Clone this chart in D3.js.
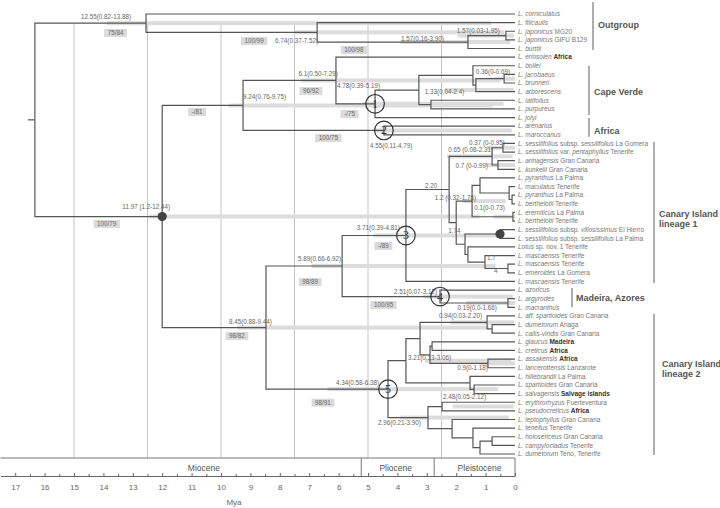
<!DOCTYPE html>
<html>
<head>
<meta charset="utf-8">
<script src="https://cdn.jsdelivr.net/npm/d3@7"></script>
<style>
body { margin: 0; background: #fff; }
svg { display: block; font-family: "Liberation Sans", Arial, sans-serif; }
</style>
</head>
<body>
<script>
"use strict"
/* etichette delle foglie, dall'alto: _corsivo_ e *grassetto* */
const taxa = [
    "_L. corniculatus_", "_L. filicaulis_", "_L. japonicus_ MG20", "_L. japonicus_ GIFU B129", "_L. burttii_",
    "_L. eriosolen_ *Africa*", "_L. bollei_", "_L. jacobaeus_", "_L. brunneri_", "_L. arborescens_",
    "_L. latifolius_", "_L. purpureus_", "_L. jolyi_", "_L. arenarius_", "_L. maroccanus_",
    "_L. sessilifolius_ subsp. _sessilifolius_ La Gomera", "_L. sessilifolius_ var. _pentaphyllus_ Tenerife",
    "_L. arinagensis_ Gran Canaria", "_L. kunkelii_ Gran Canaria", "_L. pyranthus_ La Palma",
    "_L. maculatus_ Tenerife", "_L. pyranthus_ La Palma", "_L. berthelotii_ Tenerife", "_L. eremiticus_ La Palma",
    "_L. berthelotii_ Tenerife", "_L. sessilifolius_ subsp. _villosissimus_ El Hierro",
    "_L. sessilifolius_ subsp. _sessilifolius_ La Palma", "_Lotus_ sp. nov. 1 Tenerife",
    "_L. mascaensis_ Tenerife", "_L. mascaensis_ Tenerife", "_L. emeroides_ La Gomera", "_L. mascaensis_ Tenerife",
    "_L. azoricus_", "_L. argyrodes_", "_L. macranthus_",
    "_L. aff. spartioides_ Gran Canaria", "_L. dumetorum_ Anaga", "_L. callis-viridis_ Gran Canaria",
    "_L. glaucus_ *Madeira*", "_L. creticus_ *Africa*", "_L. assakensis_ *Africa*", "_L. lancerottensis_ Lanzarote",
    "_L. hillebrandii_ La Palma", "_L. spartioides_ Gran Canaria", "_L. salvagensis_ *Salvage islands*",
    "_L. erythrorhyzus_ Fuerteventura", "_L. pseudocreticus_ *Africa*", "_L. leptophyllus_ Gran Canaria",
    "_L. tenellus_ Tenerife", "_L. holosericeus_ Gran Canaria", "_L. campylocladus_ Tenerife",
    "_L. dumetorum_ Teno, Tenerife"
];
/* nodo padre di ogni foglia */
const tipParent = [
    "A", "B", "D", "D", "C", "H", "K", "M", "M", "L", "N", "N", "I", "Af", "Af",
    "V", "V", "W", "W", "Y1", "Y2", "Y3", "Y3", "Y4", "Y4", "Z1", "Z1", "Z2", "Z3", "Z4", "Z4", "R",
    "S", "S1", "S1",
    "Q3a", "Q3ab", "Q3ab", "Q3b", "Q3b", "AL", "AL", "Q4", "Q4a", "Q4a", "Q5", "Q5", "Q6", "Q7", "Q9", "Q9", "Q8"
];
/* nodi interni: id, padre, età (milioni di anni) */
const clades = [
    ["root", null, 16.33], ["A", "root", 12.55], ["B", "A", 6.73], ["C", "B", 1.60], ["D", "C", 0.31],
    ["E", "root", 12.0], ["F", "E", 9.25], ["H", "F", 6.09], ["I", "H", 4.76], ["J", "I", 3.27],
    ["K", "J", 1.43], ["L", "K", 1.33], ["M", "L", 0.37], ["N", "J", 2.86], ["Af", "F", 4.46],
    ["G", "E", 8.47], ["P", "G", 5.88], ["R", "P", 3.71], ["T", "R", 2.24], ["U", "T", 0.78],
    ["V", "U", 0.41], ["W", "U", 0.58], ["X", "T", 2.0], ["Y", "X", 1.46], ["Y1", "Y", 1.19],
    ["Y2", "Y1", 0.20], ["Y3", "Y2", 0.10], ["Y4", "Y", 0.07], ["Z", "X", 1.70], ["Z1", "Z", 0.51],
    ["Z2", "Z", 1.60], ["Z3", "Z2", 1.02], ["Z4", "Z3", 0.24], ["S", "P", 2.55], ["S1", "S", 0.24],
    ["Q", "G", 4.32], ["Q1", "Q", 3.71], ["Q1a", "Q1", 3.23], ["Q3a", "Q1a", 0.95], ["Q3ab", "Q3a", 0.78],
    ["Q1b", "Q1a", 2.89], ["Q3b", "Q1b", 2.82], ["AL", "Q1b", 0.92], ["Q4", "Q1", 1.53], ["Q4a", "Q4", 1.39],
    ["Q2", "Q", 2.96], ["Q5", "Q2", 2.48], ["Q6", "Q2", 2.14], ["Q7", "Q6", 1.43], ["Q8", "Q7", 1.19],
    ["Q9", "Q8", 0.78]
];
/* età stimate scritte sui nodi */
const ageLabels = [
    ["A", "12.55(0.82-13.88)"], ["B", "6.74(0.37-7.52)"], ["C", "1.57(0.16-3.90)"], ["D", "1.57(0.03-1.95)"],
    ["H", "6.1(0.50-7.29)"], ["F", "9.24(0.76-9.75)"], ["I", "4.78(0.39-5.19)"], ["J", "1.33(0.04-2.4)"],
    ["M", "0.36(0-0.69)"], ["Af", "4.55(0.11-4.79)"], ["V", "0.37 (0-0.95)"], ["U", "0.65 (0.08-2.31)"],
    ["W", "0.7 (0-0.99)"], ["T", "2.20"], ["Y", "1.2 (0.32-1.76)"], ["Y4", "0.1(0-0.73)"], ["X", "1.74"],
    ["R", "3.71(0.39-4.81)"], ["P", "5.89(0.66-6.92)"], ["Z3", "1.7"], ["Z3", "4"], ["S", "2.51(0.07-3.12)"],
    ["S1", "0.19(0.0-1.66)"], ["Q3a", "0.94(0.03-2.20)"], ["G", "8.45(0.88-9.44)"], ["E", "11.97 (1.2-12.44)"],
    ["Q1", "3.21(0.13-3.06)"], ["AL", "0.9(0-1.18)"], ["Q", "4.34(0.58-6.38)"], ["Q5", "2.48(0.05-2.12)"],
    ["Q2", "2.96(0.21-3.90)"]
];
/* intervalli HPD 95%: nodo, minimo, massimo */
const hpd = [
    ["A", 0.82, 13.88], ["B", 0.37, 7.52], ["C", 0.16, 3.90], ["D", 0.03, 1.95], ["H", 0.50, 7.29],
    ["F", 0.76, 9.75], ["I", 0.39, 5.19], ["J", 0.04, 2.4], ["M", 0, 0.69], ["Af", 0.11, 4.79],
    ["V", 0, 0.95], ["U", 0.08, 2.31], ["W", 0, 0.99], ["Y", 0.32, 1.76], ["Y4", 0, 0.73],
    ["R", 0.39, 4.81], ["P", 0.66, 6.92], ["S", 0.07, 3.12], ["S1", 0.0, 1.66], ["Q3a", 0.03, 2.20],
    ["G", 0.88, 9.44], ["E", 1.2, 12.44], ["Q1", 0.13, 3.06], ["AL", 0, 1.18], ["Q", 0.58, 6.38],
    ["Q5", 0.05, 2.12], ["Q2", 0.21, 3.90]
];
/* supporto bootstrap / probabilità */
const support = [
    ["A", "75/84"], ["B", "100/99"], ["C", "100/98"], ["H", "96/92"], ["I", "-/75"], ["F", "-/81"],
    ["Af", "100/75"], ["E", "100/79"], ["R", "-/89"], ["P", "98/89"], ["S", "100/95"], ["G", "98/82"],
    ["Q", "98/91"]
];
const calibrations = [["I", "1"], ["Af", "2"], ["R", "3"], ["S", "4"], ["Q", "5"]];
const dots = ["E", "Z1"];
/* gruppi: righe dell'etichetta, prima e ultima foglia */
const groups = [
    [["Outgroup"], 0, 4], [["Cape Verde"], 6, 11], [["Africa"], 12, 14],
    [["Canary Island", "lineage 1"], 15, 31], [["Madeira, Azores"], 32, 34],
    [["Canary Island", "lineage 2"], 35, 51]
];
const epochs = [["Miocene", 17.5, 5.23], ["Pliocene", 5.23, 2.75], ["Pleistocene", 2.75, 0]];
const tickValues = d3.range(0, 18);
const gridAges = [15, 12.5, 10, 7.5, 5, 2.5];

/* posizionamento delle etichette (ancora, dx, dy rispetto al nodo) */
const ageLabelPos = [
    ["end", -15, -3.7], ["end", 1, 11], ["end", -24, -1.5], ["end", -6, -3], ["end", 2, -4],
    ["start", 0, -6], ["end", 5, -15.3], ["start", 6, 3.5], ["end", 6, -5], ["start", -14, 18],
    ["end", 2, -3], ["end", 1, -4], ["end", -10, 3.5], ["end", -12, -2], ["end", 4, -1.6],
    ["end", -8, -7], ["start", -8, 10], ["end", -6, -5], ["end", -1, -5.5], ["start", 2, -2.5],
    ["start", 9, 10.5], ["end", -3, -3], ["end", -11, 6.5], ["end", -5, -4], ["end", 6, -4],
    ["end", 8, -8], ["start", 2, -1], ["end", 0, 7], ["end", -9, -4.5], ["start", 1, -8], ["end", -7, 7]
];
const supportPos = [
    [-30.5, 9.8], [-63, 8.7], [-114, 8], [-25, 10.6], [-25.5, 10.2], [-46, 6.5], [-55.5, 7.5],
    [-55.5, 7.5], [-22.5, 10.5], [-32, 16], [-56.5, 8.5], [-29, 8.4], [-65, 13.5]
];
/* x della parentesi, margine sopra, margine sotto, dy etichetta, dx etichetta */
const groupPos = [
    [593, -12, 1.5, 1.5, 5], [589, 0, 6, 4.5, 5], [589, 0.5, 2, 6.5, 5],
    [654, -1.5, 1.5, 4.5, 5], [572, -2, 0, 3.5, 4], [654, -2, 1, -17.5, 8]
];
const epochLabelDx = [23, -2, 5];

const W = 720, H = 508;
const yAsse = 476, yEpoche = 458;

const svg = d3.select("body").append("svg").attr("width", W).attr("height", H);

const x = d3.scaleLinear().domain([17.5, 0]).range([0.5, 515]);
const y = d3.scalePoint().domain(d3.range(taxa.length)).range([14, 454]);

/* costruisce l'albero */
const righe = clades.map(c => ({ id: c[0], parent: c[1], age: c[2] }))
    .concat(taxa.map((t, i) => ({ id: "t" + i, parent: tipParent[i], age: 0, label: t, index: i })));
const albero = d3.stratify().id(d => d.id).parentId(d => d.parent)(righe);
albero.eachAfter(n => {
    n.px = x(n.data.age);
    if (!n.children) n.py = y(n.data.index);
    else {
        const ys = n.children.map(c => c.py);
        n.py = (d3.min(ys) + d3.max(ys)) / 2;
    }
});
const nodo = {};
albero.each(n => { nodo[n.id] = n; });

/* griglia verticale */
svg.append("g").selectAll("line").data(gridAges).join("line")
    .attr("x1", d => x(d)).attr("x2", d => x(d))
    .attr("y1", 24).attr("y2", yEpoche)
    .attr("stroke", "#bdbdbd").attr("stroke-width", 0.9);

/* barre HPD */
svg.append("g").selectAll("rect").data(hpd).join("rect")
    .attr("x", d => x(d[2])).attr("width", d => x(d[1]) - x(d[2]))
    .attr("y", d => nodo[d[0]].py - 2).attr("height", 4)
    .attr("fill", "#dcdcdc");

/* rami */
svg.append("g").selectAll("path").data(albero.descendants().slice(1)).join("path")
    .attr("d", n => `M${n.parent.px},${n.parent.py}V${n.py}H${n.px}`)
    .attr("fill", "none").attr("stroke", "#555").attr("stroke-width", 1.2);
svg.append("line")
    .attr("x1", albero.px - 7).attr("x2", albero.px)
    .attr("y1", albero.py).attr("y2", albero.py)
    .attr("stroke", "#555").attr("stroke-width", 1.2);

/* etichette delle foglie */
function segmenti(s) {
    return s.split(/(_[^_]+_|\*[^*]+\*)/).filter(p => p.length).map(p => {
        if (p[0] == "_") return { t: p.slice(1, -1), s: "italic" };
        if (p[0] == "*") return { t: p.slice(1, -1), s: "bold" };
        return { t: p, s: "normal" };
    });
}
const foglie = svg.append("g").selectAll("text").data(albero.leaves()).join("text")
    .attr("x", 518).attr("y", n => n.py + 2.3)
    .attr("font-size", "6.5px").attr("fill", "#777")
    .style("white-space", "pre");
foglie.selectAll("tspan").data(n => segmenti(n.data.label)).join("tspan")
    .text(d => d.t)
    .attr("font-style", d => d.s == "italic" ? "italic" : "normal")
    .attr("font-weight", d => d.s == "bold" ? "bold" : "normal")
    .attr("fill", d => d.s == "bold" ? "#333" : "#777");

/* età dei nodi */
svg.append("g").selectAll("text").data(ageLabels).join("text")
    .attr("x", (d, i) => nodo[d[0]].px + ageLabelPos[i][1])
    .attr("y", (d, i) => nodo[d[0]].py + ageLabelPos[i][2])
    .attr("text-anchor", (d, i) => ageLabelPos[i][0])
    .attr("font-size", "6.3px").attr("fill", "#666")
    .text(d => d[1]);

/* supporto nei riquadri grigi */
const gSupporto = svg.append("g").selectAll("g").data(support).join("g")
    .attr("transform", (d, i) => `translate(${nodo[d[0]].px + supportPos[i][0]},${nodo[d[0]].py + supportPos[i][1]})`);
gSupporto.append("rect").attr("fill", "#dadada");
gSupporto.append("text")
    .attr("text-anchor", "middle").attr("y", 2.2)
    .attr("font-size", "6.3px").attr("fill", "#666")
    .text(d => d[1]);
gSupporto.each(function () {
    const g = d3.select(this);
    const w = g.select("text").node().getComputedTextLength() + 7;
    g.select("rect").attr("x", -w / 2).attr("y", -4).attr("width", w).attr("height", 8);
});

/* cerchi numerati */
const gCerchi = svg.append("g").selectAll("g").data(calibrations).join("g")
    .attr("transform", d => `translate(${nodo[d[0]].px},${nodo[d[0]].py})`);
gCerchi.append("circle").attr("r", 9.3)
    .attr("fill", "none").attr("stroke", "#333").attr("stroke-width", 1.2);
gCerchi.append("text")
    .attr("text-anchor", "middle").attr("y", 4)
    .attr("font-family", "'Liberation Serif', 'DejaVu Serif', serif")
    .attr("font-size", "12px").attr("fill", "#333")
    .text(d => d[1]);

/* punti neri */
svg.append("g").selectAll("circle").data(dots).join("circle")
    .attr("cx", d => nodo[d].px).attr("cy", d => nodo[d].py).attr("r", 4.6)
    .attr("fill", "#444");

/* parentesi dei gruppi */
const gGruppi = svg.append("g").selectAll("g").data(groups).join("g");
gGruppi.append("line")
    .attr("x1", (d, i) => groupPos[i][0]).attr("x2", (d, i) => groupPos[i][0])
    .attr("y1", (d, i) => y(d[1]) + groupPos[i][1])
    .attr("y2", (d, i) => y(d[2]) + groupPos[i][2])
    .attr("stroke", "#777").attr("stroke-width", 1.2);
gGruppi.append("text")
    .attr("font-size", "9px").attr("font-weight", "bold").attr("fill", "#555")
    .selectAll("tspan").data((d, i) => d[0].map((r, k) => ({
        r: r, k: k,
        x: groupPos[i][0] + groupPos[i][4],
        y: (y(d[1]) + groupPos[i][1] + y(d[2]) + groupPos[i][2]) / 2 + groupPos[i][3]
    }))).join("tspan")
    .attr("x", d => d.x).attr("y", d => d.y + d.k * 10)
    .text(d => d.r);

/* fasce delle epoche */
const gEpoche = svg.append("g");
gEpoche.append("line")
    .attr("x1", x(17.5)).attr("x2", x(0)).attr("y1", yEpoche).attr("y2", yEpoche)
    .attr("stroke", "#777").attr("stroke-width", 1);
gEpoche.selectAll("line.confine").data(epochs.slice(1).map(e => e[1]).concat([0])).join("line")
    .attr("class", "confine")
    .attr("x1", d => x(d)).attr("x2", d => x(d)).attr("y1", yEpoche).attr("y2", yAsse)
    .attr("stroke", "#777").attr("stroke-width", 1);
gEpoche.selectAll("text").data(epochs).join("text")
    .attr("x", (d, i) => (x(d[1]) + x(d[2])) / 2 + epochLabelDx[i])
    .attr("y", 470.5)
    .attr("text-anchor", "middle").attr("font-size", "8.5px").attr("fill", "#555")
    .text(d => d[0]);

/* asse del tempo */
const asse = d3.axisBottom(x).tickValues(tickValues)
    .tickSizeInner(-3).tickSizeOuter(0).tickPadding(8).tickFormat(d3.format("d"));
const gAsse = svg.append("g").attr("transform", `translate(0,${yAsse})`).call(asse)
    .attr("font-family", null).attr("font-size", null);
gAsse.select(".domain").attr("stroke", "#666");
gAsse.selectAll(".tick line").attr("stroke", "#666");
gAsse.selectAll(".tick text").attr("fill", "#666").attr("font-size", "8px");
const asseMinore = d3.axisBottom(x).tickValues(d3.range(0.5, 17.5, 1))
    .tickSizeInner(-2).tickSizeOuter(0).tickFormat("");
const gMinore = svg.append("g").attr("transform", `translate(0,${yAsse})`).call(asseMinore);
gMinore.select(".domain").remove();
gMinore.selectAll(".tick line").attr("stroke", "#666");
svg.append("text")
    .attr("x", 234).attr("y", 505)
    .attr("text-anchor", "middle").attr("font-size", "8px").attr("fill", "#666")
    .text("Mya");
</script>
</body>
</html>
